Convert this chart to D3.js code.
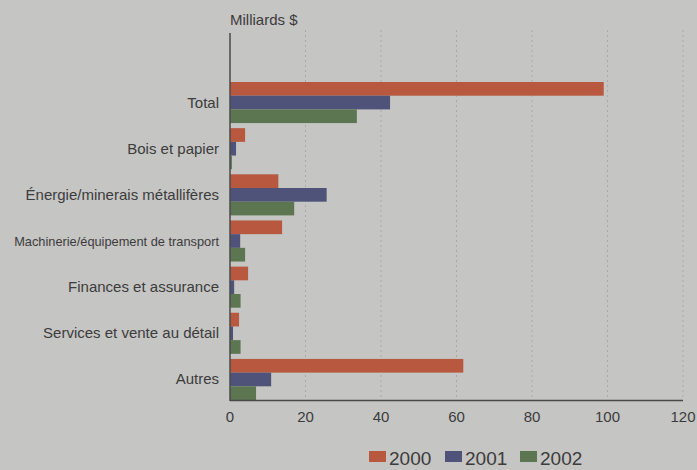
<!DOCTYPE html>
<html lang="fr">
<head>
  <meta charset="UTF-8">
  <title>Milliards $</title>
  <script src="https://cdn.jsdelivr.net/npm/d3@7/dist/d3.min.js"></script>
  <style>
    body { margin: 0; background: #c5c5c3; }
    text { font-family: "Liberation Sans", Arial, sans-serif; fill: #3c3c3c; }
  </style>
</head>
<body>
  <div id="main"></div>
  <script>
    // données
    var categories = ["Total", "Bois et papier", "Énergie/minerais métallifères",
      "Machinerie/équipement de transport", "Finances et assurance",
      "Services et vente au détail", "Autres"];
    var years = ["2000", "2001", "2002"];
    var v2000 = [99, 4, 12.8, 13.8, 4.8, 2.4, 61.8];
    var v2001 = [42.4, 1.6, 25.6, 2.7, 1.1, 0.8, 10.9];
    var v2002 = [33.6, 0.5, 17, 4, 2.8, 2.8, 6.9];
    var xTicks = [0, 20, 40, 60, 80, 100, 120];

    var series = [v2000, v2001, v2002];
    var colors = ["#b8583e", "#4f5279", "#5c7652"];

    var width = 697, height = 470;
    var svg = d3.select("#main").append("svg")
      .attr("width", width)
      .attr("height", height);

    var x = d3.scaleLinear().domain([0, 120]).range([230, 683]);
    var y = d3.scaleBand().domain(categories).range([82, 400])
      .paddingInner(0.11).paddingOuter(0);
    var ySub = d3.scaleBand().domain(years).range([0, y.bandwidth()]);

    // grille pointillée
    svg.append("g").selectAll("line").data(xTicks.slice(1)).enter().append("line")
      .attr("x1", d => x(d)).attr("x2", d => x(d))
      .attr("y1", 30).attr("y2", 400)
      .attr("stroke", "#a9a9a7")
      .attr("stroke-width", 1)
      .attr("stroke-dasharray", "2,3");

    // barres
    series.forEach(function (vals, si) {
      svg.append("g").selectAll("rect").data(vals).enter().append("rect")
        .attr("x", x(0))
        .attr("y", (d, i) => y(categories[i]) + ySub(years[si]))
        .attr("width", d => x(d) - x(0))
        .attr("height", ySub.bandwidth())
        .attr("fill", colors[si]);
    });

    // axes
    svg.append("line").attr("x1", x(0)).attr("x2", x(0)).attr("y1", 33).attr("y2", 401)
      .attr("stroke", "#4a4a4a").attr("stroke-width", 1.5);
    svg.append("line").attr("x1", x(0)).attr("x2", x(120)).attr("y1", 400.5).attr("y2", 400.5)
      .attr("stroke", "#4a4a4a").attr("stroke-width", 1.5);

    svg.append("g").selectAll("text").data(xTicks).enter().append("text")
      .attr("x", d => x(d)).attr("y", 422)
      .attr("text-anchor", "middle")
      .style("font-size", "15px")
      .text(d => d);

    svg.append("g").selectAll("text").data(categories).enter().append("text")
      .attr("x", 219)
      .attr("y", d => y(d) + y.bandwidth() / 2 + 5)
      .attr("text-anchor", "end")
      .style("font-size", d => d.length > 30 ? "12.8px" : "15px")
      .text(d => d);

    svg.append("text").attr("x", 230).attr("y", 25)
      .style("font-size", "15px")
      .text("Milliards $");

    // légende
    var legendX = [369, 445, 520];
    var legend = svg.append("g").selectAll("g").data(years).enter().append("g")
      .attr("transform", (d, i) => "translate(" + legendX[i] + ",451)");
    legend.append("rect").attr("width", 17).attr("height", 11)
      .attr("fill", (d, i) => colors[i]);
    legend.append("text").attr("x", 20).attr("y", 14)
      .style("font-size", "19px")
      .text(d => d);
  </script>
</body>
</html>
